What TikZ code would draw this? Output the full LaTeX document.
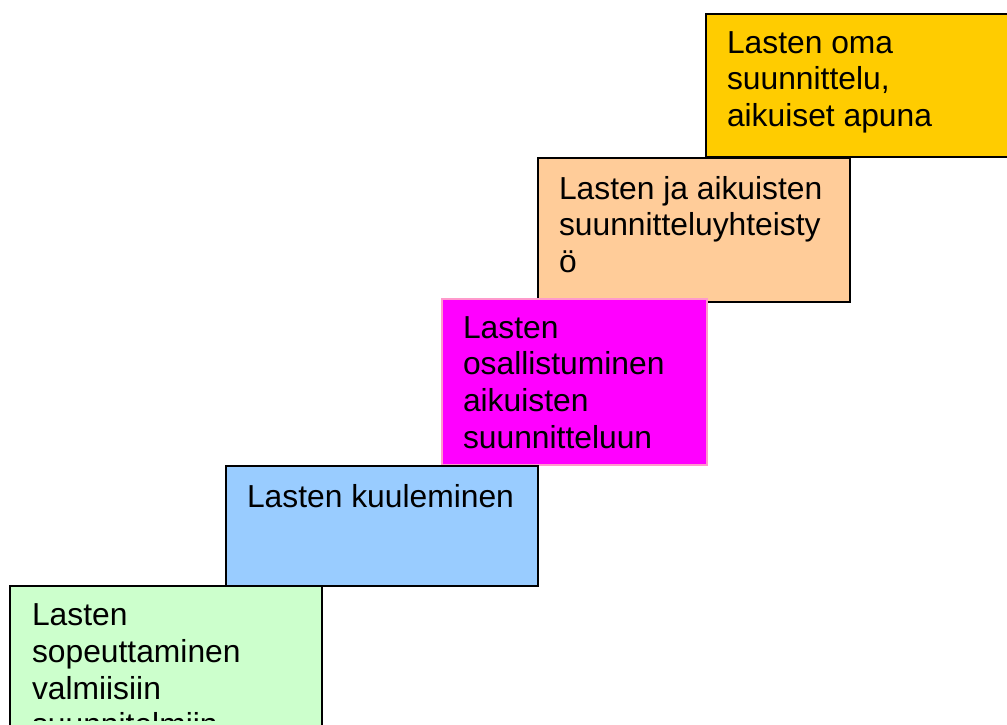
\documentclass[tikz,border=0pt]{standalone}
\usepackage{fontspec}
\setmainfont{Liberation Sans}
\definecolor{cgold}{HTML}{FFCC00}
\definecolor{cpeach}{HTML}{FFCC99}
\definecolor{cmag}{HTML}{FF00FF}
\definecolor{cpink}{HTML}{FF99CC}
\definecolor{cblue}{HTML}{99CCFF}
\definecolor{cgreen}{HTML}{CCFFCC}
\tikzset{
  stepbox/.style={draw=black, line width=1.5pt, rectangle, anchor=north west, inner sep=0pt, outer sep=0pt},
  steptext/.style={anchor=north west, inner sep=0pt, outer sep=0pt, align=left, font=\fontsize{31.8}{36.6}\selectfont}
}
\begin{document}
\begin{tikzpicture}[x=1pt,y=-1pt]
\useasboundingbox (0,0) rectangle (1007,724);
\clip (0,0) rectangle (1007,724);
% gold
\node[stepbox, fill=cgold, minimum width=310pt, minimum height=143pt] (gold) at (706,14) {};
\node[steptext] (goldt) at ([shift={(21pt,-17.5pt)}]gold.north west) {Lasten oma\\suunnittelu,\\aikuiset apuna};
% peach
\node[stepbox, fill=cpeach, minimum width=312pt, minimum height=144pt] (peach) at (538,158) {};
\node[steptext] (peacht) at ([shift={(21pt,-18pt)}]peach.north west) {Lasten ja aikuisten\\suunnitteluyhteisty\\ö};
% magenta
\node[stepbox, draw=cpink, fill=cmag, minimum width=265pt, minimum height=166pt] (mag) at (442,299) {};
\node[steptext] (magt) at ([shift={(21pt,-17.5pt)}]mag.north west) {Lasten\\osallistuminen\\aikuisten\\suunnitteluun};
% blue
\node[stepbox, fill=cblue, minimum width=312pt, minimum height=120pt] (blue) at (226,466) {};
\node[steptext] (bluet) at ([shift={(21pt,-18pt)}]blue.north west) {Lasten kuuleminen};
% green
\node[stepbox, fill=cgreen, minimum width=312pt, minimum height=170pt] (green) at (10,586) {};
\begin{scope}
\clip (0,0) rectangle (1007,720);
\node[steptext] (greent) at ([shift={(22pt,-18pt)}]green.north west) {Lasten\\sopeuttaminen\\valmiisiin\\suunnitelmiin};
\end{scope}
\end{tikzpicture}
\end{document}
